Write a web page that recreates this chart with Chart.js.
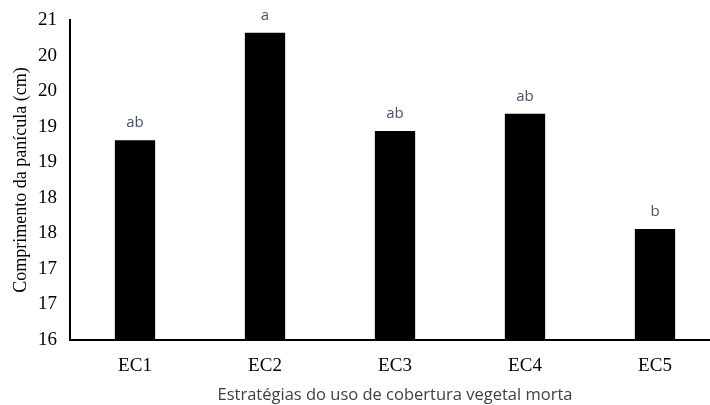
<!DOCTYPE html>
<html>
<head>
<meta charset="utf-8">
<script src="https://cdn.jsdelivr.net/npm/chart.js@4"></script>
<style>
  html, body { margin: 0; padding: 0; background: #fff; overflow: hidden; }
  #wrap { width: 722px; height: 405px; }
</style>
</head>
<body>
<div id="wrap"><canvas id="chart" width="722" height="405"></canvas></div>
<script>
const categories = ["EC1", "EC2", "EC3", "EC4", "EC5"];
const lengths = [18.81, 20.32, 18.94, 19.18, 17.56];
const letters = ["ab", "a", "ab", "ab", "b"];

// letras de significancia acima das barras
const letterPlugin = {
    id: 'letters',
    afterDatasetsDraw(chart) {
        const ctx = chart.ctx;
        const meta = chart.getDatasetMeta(0);
        ctx.save();
        ctx.font = '15px "Open Sans"';
        ctx.fillStyle = '#44546a';
        ctx.textAlign = 'center';
        ctx.textBaseline = 'alphabetic';
        meta.data.forEach((bar, i) => {
            ctx.fillText(letters[i], bar.x, bar.y - 13);
        });
        ctx.restore();
    }
};

new Chart(document.getElementById('chart'), {
    type: 'bar',
    data: {
        labels: categories,
        datasets: [{
            data: lengths,
            backgroundColor: '#000',
            borderWidth: 0,
            barPercentage: 0.62,
            categoryPercentage: 0.5
        }]
    },
    options: {
        responsive: false,
        animation: false,
        layout: { padding: { top: 20, right: 2, left: 0, bottom: 0 } },
        plugins: {
            legend: { display: false },
            tooltip: { enabled: false }
        },
        scales: {
            x: {
                grid: { display: false, drawTicks: false },
                border: { display: true, color: '#000', width: 2 },
                ticks: {
                    color: '#000',
                    padding: 15,
                    font: { family: '"Liberation Serif"', size: 19 }
                },
                title: {
                    display: true,
                    text: 'Estratégias do uso de cobertura vegetal morta',
                    color: '#404040',
                    font: { family: '"Open Sans"', size: 16.5 },
                    padding: { top: 0, bottom: 0 }
                },
                afterFit: s => { s.height = 65; }
            },
            y: {
                min: 16,
                max: 20.5,
                grid: { display: false, drawTicks: false },
                border: { display: true, color: '#000', width: 2 },
                ticks: {
                    stepSize: 0.5,
                    color: '#000',
                    padding: 13,
                    font: { family: '"Liberation Serif"', size: 19 },
                    callback: v => Math.round(v + 1e-9)
                },
                title: {
                    display: true,
                    text: 'Comprimento da panícula (cm)',
                    color: '#000',
                    font: { family: '"Liberation Serif"', size: 18 },
                    padding: { top: 10, bottom: 0 }
                },
                afterFit: s => { s.width = 70; s.paddingTop = 0; }
            }
        }
    },
    plugins: [letterPlugin]
});
</script>
</body>
</html>
